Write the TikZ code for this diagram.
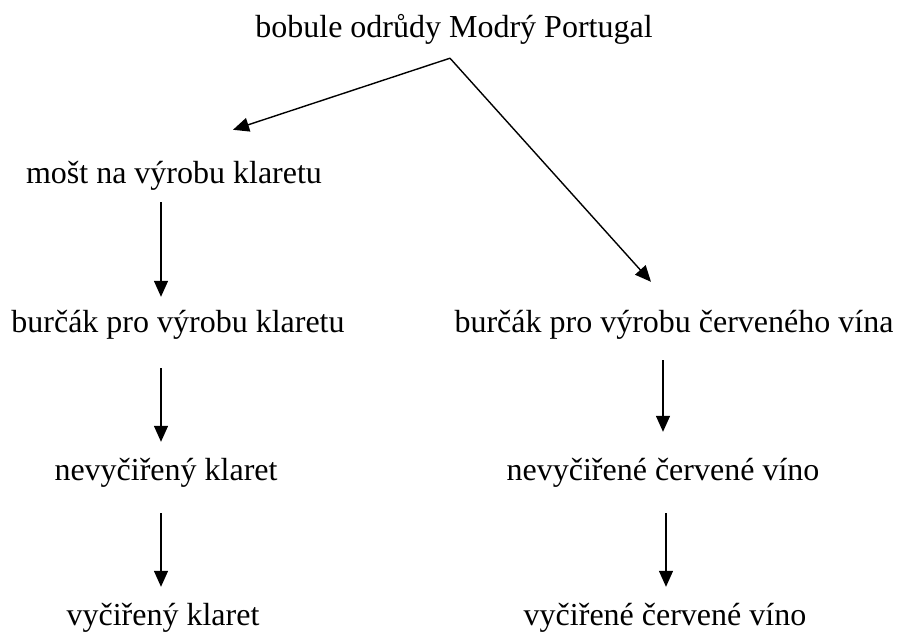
\documentclass[tikz,border=0pt]{standalone}
\usepackage{fontspec}
\setmainfont{Liberation Serif}
\usetikzlibrary{arrows.meta,calc}
\begin{document}
\begin{tikzpicture}[x=1pt,y=-1pt,
  lbl/.style={anchor=base,inner sep=0pt,text height=22pt,text depth=7pt,font=\fontsize{32}{38}\selectfont},
  arr/.style={line width=1.4pt,-{Triangle[length=16pt,width=14pt]}}]
\useasboundingbox[fill=white] (0,0) rectangle (897,633);
\node[lbl] (top) at (454,37) {bobule odrůdy Modrý Portugal};
\node[lbl] (mo) at (174,183) {mošt na výrobu klaretu};
\node[lbl] (bk) at (178,332) {burčák pro výrobu klaretu};
\node[lbl] (bc) at (674,332) {burčák pro výrobu červeného vína};
\node[lbl] (nk) at (166,480) {nevyčiřený klaret};
\node[lbl] (nc) at (663,480) {nevyčiřené červené víno};
\node[lbl] (vk) at (163,625) {vyčiřený klaret};
\node[lbl] (vc) at (665,625) {vyčiřené červené víno};
\coordinate (cl) at (161,0);
\coordinate (cr1) at (663,0);
\coordinate (cr2) at (666,0);
\coordinate (fork) at ([xshift=-4pt,yshift=-14pt]top.south);
\draw[arr] (fork) -- ([xshift=59pt,yshift=31pt]mo.north);
\draw[arr] (fork) -- ([xshift=-23pt,yshift=28pt]bc.north);
\draw[arr,shorten <=12pt,shorten >=13pt] (mo.south -| cl) -- (bk.north -| cl);
\draw[arr,shorten <=29pt,shorten >=16pt] (bk.south -| cl) -- (nk.north -| cl);
\draw[arr,shorten <=26pt,shorten >=16pt] (nk.south -| cl) -- (vk.north -| cl);
\draw[arr,shorten <=21pt,shorten >=26pt] (bc.south -| cr1) -- (nc.north -| cr1);
\draw[arr,shorten <=26pt,shorten >=16pt] (nc.south -| cr2) -- (vc.north -| cr2);
\end{tikzpicture}
\end{document}
